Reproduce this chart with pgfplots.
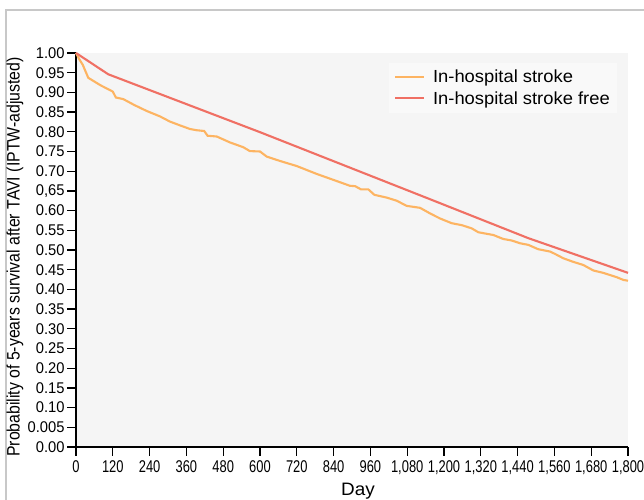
\documentclass[border=0pt]{standalone}
\usepackage{fontspec}
\setmainfont{Liberation Sans}[FakeStretch=0.76]
\newfontfamily\legfont{Liberation Sans}[FakeStretch=1.05]
\newfontfamily\labfont{Liberation Sans}[FakeStretch=0.88]
\newfontfamily\yfont{Liberation Sans}[FakeStretch=0.95]
\usepackage{pgfplots}
\pgfplotsset{compat=1.18}
\definecolor{cstroke}{RGB}{253,180,98}
\definecolor{cfree}{RGB}{240,112,100}
\definecolor{plotbg}{RGB}{245,245,245}
\definecolor{legbg}{RGB}{249,249,249}
\definecolor{framegray}{RGB}{200,200,200}
\begin{document}
\begin{tikzpicture}[x=1bp,y=1bp]
\fill[white] (0,0) rectangle (644,500);
\draw[framegray, line width=1.5bp] (6,-5) -- (6,490) -- (650,490);
\begin{axis}[
  at={(76bp,53bp)}, anchor=origin,
  scale only axis, width=552bp, height=394bp,
  xmin=0, xmax=1800, ymin=0, ymax=1,
  axis lines=left,
  axis line style={-, line width=1.6bp, black},
  axis background/.style={fill=plotbg},
  tick align=outside,
  major tick length=9bp,
  tick style={black, line width=1.3bp},
  xtick={0,120,240,360,480,600,720,840,960,1080,1200,1320,1440,1560,1680,1800},
  xticklabels={0,120,240,360,480,600,720,840,960,{1,080},{1,200},{1,320},{1,440},{1,560},{1,680},{1,800}},
  ytick={0,0.05,0.10,0.15,0.20,0.25,0.30,0.35,0.40,0.45,0.50,0.55,0.60,0.65,0.70,0.75,0.80,0.85,0.90,0.95,1.00},
  yticklabels={0.00,0.005,0.10,0.15,0.20,0.25,0.30,0.35,0.40,0.45,0.50,0.55,0.60,{0,65},0.70,0.75,0.80,0.85,0.90,0.95,1.00},
  xticklabel style={font=\fontsize{17bp}{20bp}\selectfont, yshift=-1bp},
  yticklabel style={font=\yfont\fontsize{15.5bp}{18bp}\selectfont, xshift=1bp},
  clip=false,
  legend style={at={(rel axis cs:0.98,0.9746)}, anchor=north east, draw=none, fill=legbg,
    font=\legfont\fontsize{17.5bp}{20bp}\selectfont, inner xsep=5bp, inner ysep=5bp, row sep=3bp, column sep=6bp},
  legend cell align=left,
  legend image code/.code={\draw[#1] (0bp,0bp) -- (29bp,0bp);},
]
\addplot[cstroke, line width=2.1bp] coordinates {
(0,1.000) (10,0.985) (22,0.970) (40,0.937) (80,0.918) (120,0.902) (130,0.887) (154,0.883)
(190,0.868) (230,0.853) (274,0.839) (306,0.826) (340,0.816) (372,0.807) (393,0.804) (418,0.802)
(429,0.790) (459,0.788) (502,0.773) (545,0.761) (567,0.751) (600,0.750) (622,0.737) (665,0.726)
(720,0.713) (785,0.693) (850,0.675) (893,0.663) (910,0.662) (929,0.654) (953,0.654) (973,0.640)
(1013,0.633) (1046,0.625) (1078,0.612) (1122,0.607) (1154,0.593) (1187,0.580) (1225,0.568)
(1258,0.563) (1290,0.555) (1312,0.545) (1361,0.538) (1393,0.528) (1421,0.524) (1448,0.517)
(1475,0.513) (1507,0.502) (1546,0.496) (1562,0.490) (1589,0.479) (1621,0.470) (1654,0.462)
(1687,0.448) (1719,0.442) (1763,0.431) (1785,0.424) (1800,0.422)
};
\addlegendentry{In-hospital stroke}
\addplot[cfree, line width=2.1bp] coordinates {
(0,1.000) (105,0.946) (600,0.799) (1154,0.629) (1475,0.530) (1800,0.442)
};
\addlegendentry{In-hospital stroke free}
\end{axis}
\node[rotate=90, font=\labfont\fontsize{18bp}{21bp}\selectfont] at (15,243) {Probability of 5-years survival after TAVI (IPTW-adjusted)};
\node[font=\legfont\fontsize{18bp}{21bp}\selectfont] at (358,9) {Day};
\pgfresetboundingbox
\useasboundingbox (0,0) rectangle (644,500);
\end{tikzpicture}
\end{document}
